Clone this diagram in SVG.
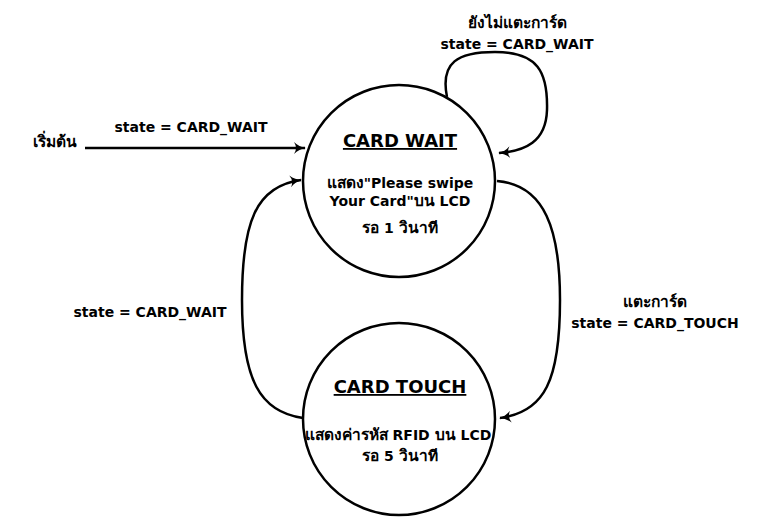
<svg xmlns="http://www.w3.org/2000/svg" width="764" height="530" viewBox="0 0 764 530">
<style>
text{font-family:"DejaVu Sans","Liberation Sans",sans-serif;font-weight:bold;fill:#000;text-anchor:middle}
.lbl{font-size:14px}
.title{font-size:18px;text-decoration:underline}
.body{font-size:14px}
.th{font-size:15.5px}
.node{fill:#fff;stroke:#000;stroke-width:2.5}
.edge{fill:none;stroke:#000;stroke-width:2.5}
</style>
<defs>
<marker id="arr" viewBox="0 0 12 12" refX="11" refY="6" markerWidth="12" markerHeight="12" markerUnits="userSpaceOnUse" orient="auto">
<path d="M0,0 Q5,5 12,6 Q5,7 0,12 Q4,6 0,0 z" fill="#000"/>
</marker>
</defs>
<rect width="764" height="530" fill="#fff"/>
<g id="connectors">
<path class="edge" d="M85,148 L305,148" marker-end="url(#arr)"/>
<path class="edge" d="M447,97 C440,62 458,52 495,52 C538,52 548,72 547,110 C546,142 525,151 499,153" marker-end="url(#arr)"/>
<path class="edge" d="M497,181 C545,185 560,230 560,300 C560,380 545,412 500,418" marker-end="url(#arr)"/>
<path class="edge" d="M303,418 C260,412 242,380 242,300 C242,222 256,186 301,180" marker-end="url(#arr)"/>
<text class="lbl th" x="33" y="147" style="text-anchor:start">เริ่มต้น</text>
<text class="lbl" x="191" y="132">state = CARD_WAIT</text>
<text class="lbl th" x="517" y="28">ยังไม่แตะการ์ด</text>
<text class="lbl" x="517" y="49">state = CARD_WAIT</text>
<text class="lbl th" x="655" y="307">แตะการ์ด</text>
<text class="lbl" x="655" y="328">state = CARD_TOUCH</text>
<text class="lbl" x="150" y="317">state = CARD_WAIT</text>
</g>
<g id="card-wait">
<circle class="node" cx="399" cy="181" r="96"/>
<text class="title" x="400" y="147">CARD WAIT</text>
<text class="body" x="400" y="188"><tspan class="th">แสดง</tspan>"Please swipe</text>
<text class="body" x="400" y="206">Your Card"<tspan class="th">บน</tspan> LCD</text>
<text class="body" x="400" y="233"><tspan class="th">รอ</tspan> 1 <tspan class="th">วินาที</tspan></text>
</g>
<g id="card-touch">
<circle class="node" cx="399" cy="419" r="96"/>
<text class="title" x="400" y="393">CARD TOUCH</text>
<text class="body" x="398" y="440"><tspan class="th">แสดงค่ารหัส</tspan> RFID <tspan class="th">บน</tspan> LCD</text>
<text class="body" x="400" y="461"><tspan class="th">รอ</tspan> 5 <tspan class="th">วินาที</tspan></text>
</g>
</svg>
